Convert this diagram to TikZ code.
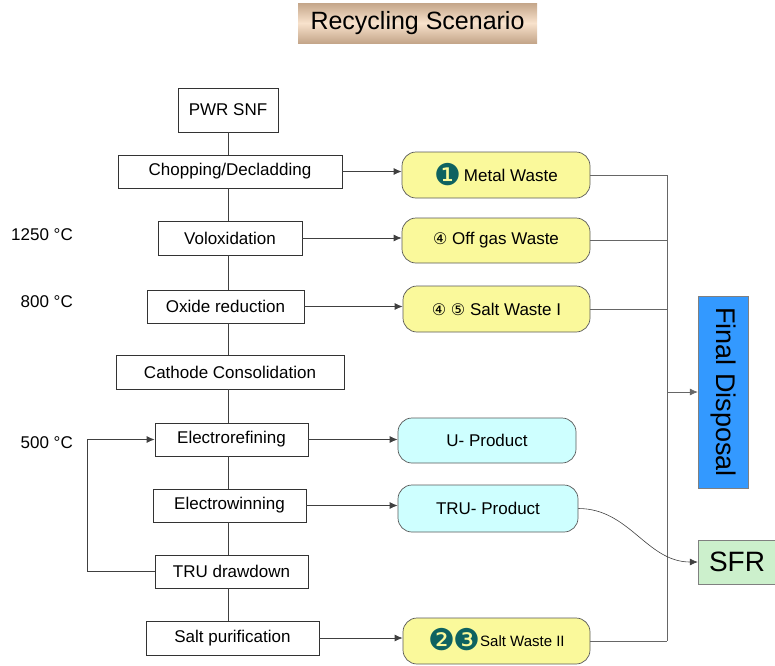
\documentclass[tikz,border=0pt]{standalone}
\usepackage{fontspec}
\setmainfont{Liberation Sans}
\newfontfamily\dingfont{DejaVu Sans}
\usepackage{tikz}
\usetikzlibrary{positioning}
\usetikzlibrary{arrows.meta}
\usepackage{xcolor}
\definecolor{tanD}{RGB}{196,166,138}
\definecolor{tanL}{RGB}{248,226,204}
\definecolor{wasteyellow}{RGB}{250,249,155}
\definecolor{prodcyan}{RGB}{206,255,255}
\definecolor{fdblue}{RGB}{51,153,255}
\definecolor{sfrgreen}{RGB}{204,240,204}
\definecolor{numteal}{RGB}{14,98,96}

\newcommand{\fillnum}[1]{\smash{\raisebox{-4pt}{\dingfont\fontsize{30}{30}\selectfont\color{numteal}#1}}}
\newcommand{\ringnum}[1]{{\dingfont\fontsize{16}{18}\selectfont #1}}

\begin{document}
\begin{tikzpicture}[x=1pt, y=-1pt, font=\fontsize{17}{20}\selectfont,
	wh/.style 2 args={minimum width=#1pt, minimum height=#2pt, inner sep=0pt},
	titlebox/.style={top color=tanD, bottom color=tanD, middle color=tanL, font=\fontsize{25}{28}\selectfont},
	stepbox/.style={draw=black!80, fill=white, line width=0.8pt},
	waste/.style={draw=black!65, fill=wasteyellow, rounded corners=14pt, line width=0.7pt},
	product/.style={waste, fill=prodcyan},
	templabel/.style={anchor=east, inner sep=0pt},
	link/.style={draw=black!75, line width=0.8pt},
	bus/.style={draw=black!60, line width=0.6pt},
	arr/.style={link, -{Latex[length=8pt,width=7pt]}}]
	\useasboundingbox (0,0) rectangle (775,665);
	
	\node[titlebox, wh={239}{40}] (title) at (417.5,23) {Recycling Scenario};
	
	% process steps
	\node[stepbox, wh={100}{44}] (pwr) at (228,110) {PWR SNF};
	\node[stepbox, wh={224}{33}] (chop) at (230,171.5) {Chopping/Decladding};
	\node[stepbox, wh={144}{34}] (volox) at (230,238) {Voloxidation};
	\node[stepbox, wh={157}{33}] (oxred) at (225.5,306.5) {Oxide reduction};
	\node[stepbox, wh={228}{34}] (cathode) at (230,372) {Cathode Consolidation};
	\node[stepbox, wh={153}{33}] (eref) at (231.5,439.5) {Electrorefining};
	\node[stepbox, wh={153}{33}] (ewin) at (229.5,505.5) {Electrowinning};
	\node[stepbox, wh={153}{33}] (trudd) at (231.5,571.5) {TRU drawdown};
	\node[stepbox, wh={173}{34}] (saltp) at (232.5,638) {Salt purification};
	
	\foreach \a/\b in {pwr/chop, chop/volox, volox/oxred, oxred/cathode, cathode/eref, eref/ewin, ewin/trudd, trudd/saltp}
		\draw[link] (\a.south -| pwr.south) -- (\b.north -| pwr.south);
	
	% temperatures
	\node[templabel] (t1250) at (73,235) {1250 °C};
	\node[templabel] (t800) at (73,302) {800 °C};
	\node[templabel] (t500) at (73,443) {500 °C};
	
	% wastes and products
	\node[waste, wh={188}{46}] (metal) at (496,175) {\fillnum{❶}\,Metal Waste};
	\node[waste, wh={188}{45}] (offgas) at (496,240.5) {\ringnum{④}\ Off gas Waste};
	\node[waste, wh={187}{46}] (saltI) at (496.5,309) {\ringnum{④}\ \ringnum{⑤}\ Salt Waste I};
	\node[product, wh={178}{45}] (uprod) at (487,440.5) {U- Product};
	\node[product, wh={180}{47}] (truprod) at (488,508.5) {TRU- Product};
	\node[waste, wh={187}{46}] (saltII) at (496.5,641) {\fillnum{❷}\kern-2pt\fillnum{❸}{\fontsize{15}{18}\selectfont Salt Waste II}};
	
	\node[draw=black!50, fill=fdblue, wh={50}{192}, font=\fontsize{27}{30}\selectfont] (fd) at (723,392) {\rotatebox{-90}{Final Disposal}};
	\node[draw=black!50, fill=sfrgreen, wh={78}{44}, font=\fontsize{28}{30}\selectfont] (sfr) at (737,562) {SFR};
	
	\foreach \a/\b in {chop/metal, volox/offgas, oxred/saltI, eref/uprod, ewin/truprod, saltp/saltII}
		\draw[arr] (\a.east) -- (\a.east -| \b.west);
	
	% feedback loop
	\coordinate (loop) at (87,0);
	\draw[arr] (trudd.west) -- (trudd.west -| loop) |- (eref.west);
	
	% collector to final disposal
	\coordinate (col) at (667,0);
	\foreach \w in {metal, offgas, saltI, saltII}
		\draw[bus] (\w.east) -- (\w.east -| col);
	\draw[bus] (metal.east -| col) -- (saltII.east -| col);
	\draw[arr, draw=black!60, line width=0.6pt] (fd.west -| col) -- (fd.west);
	
	\draw[arr, line width=0.6pt] (truprod.east) to[out=0, in=180] (sfr.west);
\end{tikzpicture}
\end{document}
